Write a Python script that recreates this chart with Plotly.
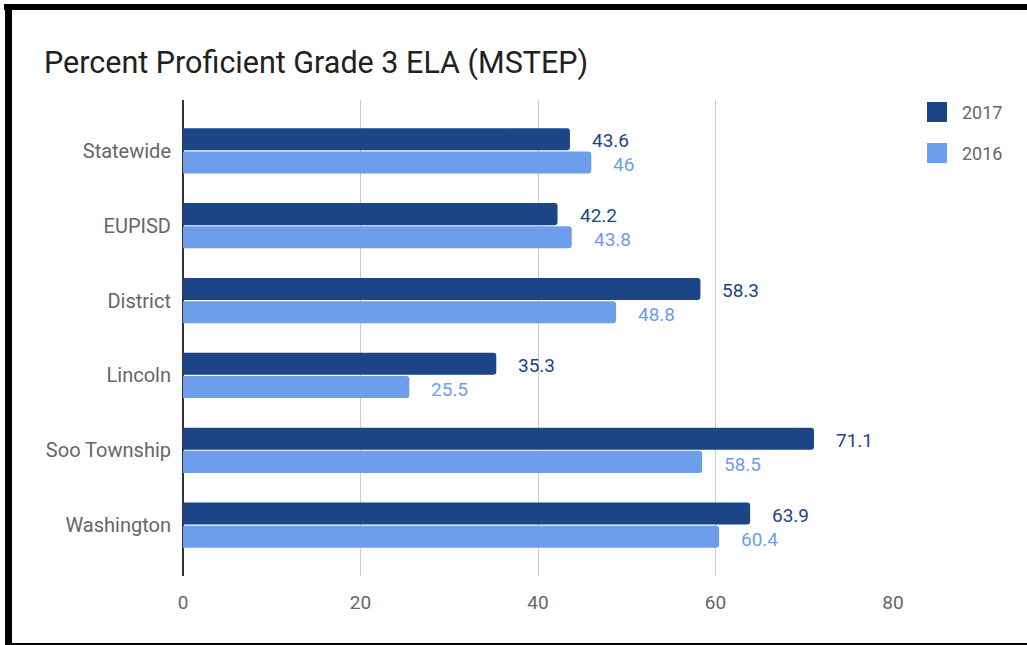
import plotly.graph_objects as go

categories = ["Statewide", "EUPISD", "District", "Lincoln", "Soo Township", "Washington"]
values_2017 = [43.6, 42.2, 58.3, 35.3, 71.1, 63.9]
values_2016 = [46, 43.8, 48.8, 25.5, 58.5, 60.4]
series_names = ["2017", "2016"]
x_ticks = [0, 20, 40, 60, 80]

DARK = "#1c4587"
LIGHT = "#6d9eeb"
GRAY = "#666666"
FONT = "Roboto"

W, H = 1027, 645
L, R, T, B = 183, 134, 100, 69
PW, PH = W - L - R, H - T - B


def px(xp):
    return (xp - L) / PW


def py(yp):
    return (H - B - yp) / PH


fig = go.Figure()
for name, vals, col in [(series_names[0], values_2017, DARK), (series_names[1], values_2016, LIGHT)]:
    fig.add_trace(go.Bar(
        name=name, y=categories, x=vals, orientation="h",
        marker=dict(color=col, line=dict(width=0), cornerradius=3),
        showlegend=False, hoverinfo="x+y",
    ))

annotations = []
for vals, col, ys in [(values_2017, DARK, 10), (values_2016, LIGHT, -14)]:
    for c, v in zip(categories, vals):
        annotations.append(dict(
            x=v, y=c, xref="x", yref="y", text=f"{v:g}", showarrow=False,
            xanchor="left", yanchor="middle", xshift=20, yshift=ys,
            font=dict(family=FONT, size=19, color=col),
        ))

# legend (drawn manually for matching square size)
shapes = []
for i, (name, col) in enumerate([(series_names[0], DARK), (series_names[1], LIGHT)]):
    y0 = 102 + i * 41
    shapes.append(dict(type="rect", xref="paper", yref="paper",
                       x0=px(927), x1=px(947), y0=py(y0 + 20), y1=py(y0),
                       fillcolor=col, line=dict(width=0), layer="above"))
    annotations.append(dict(x=px(960), y=py(y0 + 10), xref="paper", yref="paper",
                            text=name, showarrow=False, xanchor="left", yanchor="middle",
                            font=dict(family=FONT, size=18, color=GRAY)))

# black frame (top, left, bottom)
shapes += [
    dict(type="rect", xref="paper", yref="paper", x0=px(4), x1=px(1027), y0=py(10), y1=py(4),
         fillcolor="black", line=dict(width=0), layer="above"),
    dict(type="rect", xref="paper", yref="paper", x0=px(5), x1=px(12), y0=py(645), y1=py(4),
         fillcolor="black", line=dict(width=0), layer="above"),
    dict(type="rect", xref="paper", yref="paper", x0=px(5), x1=px(1027), y0=py(645), y1=py(643),
         fillcolor="black", line=dict(width=0), layer="above"),
]

fig.update_layout(
    width=W, height=H,
    margin=dict(l=L, r=R, t=T, b=B, pad=0),
    paper_bgcolor="white", plot_bgcolor="white",
    barmode="group", bargap=0.38, bargroupgap=0.05,
    title=dict(text="Percent Proficient Grade 3 ELA (MSTEP)", x=44 / W, xref="container",
               xanchor="left", y=1 - 62 / H, yref="container", yanchor="middle",
               font=dict(family=FONT, size=30.5, color="#212121")),
    font=dict(family=FONT, size=19, color=GRAY),
    xaxis=dict(range=[0, 80], tickvals=x_ticks, ticktext=[str(t) for t in x_ticks],
               showgrid=True, gridcolor="#cccccc", gridwidth=1,
               zeroline=True, zerolinecolor="#333333", zerolinewidth=1.5,
               showline=False, ticks="", ticklabelstandoff=13,
               tickfont=dict(family=FONT, size=19, color=GRAY), fixedrange=True),
    yaxis=dict(range=[5.68, -0.68], showgrid=False, zeroline=False, showline=False,
               ticks="", ticklabelstandoff=11,
               tickfont=dict(family=FONT, size=20, color=GRAY), fixedrange=True),
    annotations=annotations, shapes=shapes, showlegend=False,
)

fig.write_html("out.html", config={"displayModeBar": False},
               post_script="document.body.style.margin='0';document.body.style.overflow='hidden';")
